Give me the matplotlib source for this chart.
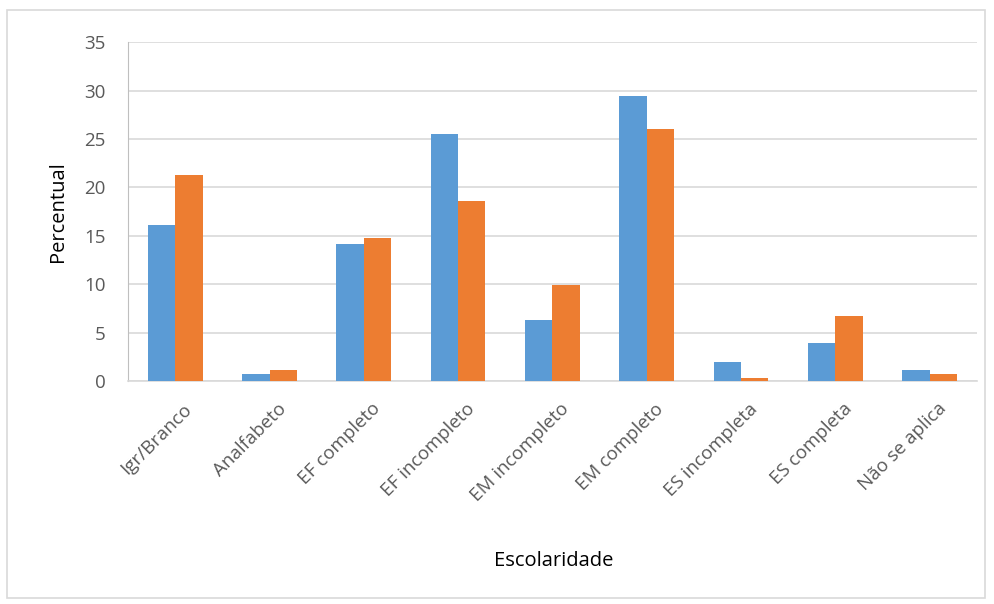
import numpy as np
import matplotlib
matplotlib.use("Agg")
import matplotlib.pyplot as plt
import matplotlib.transforms as mtransforms
from matplotlib.patches import Rectangle

plt.rcParams['font.family'] = ['Open Sans', 'DejaVu Sans']

categorias = ['Igr/Branco', 'Analfabeto', 'EF completo', 'EF incompleto',
              'EM incompleto', 'EM completo', 'ES incompleta', 'ES completa',
              'Não se aplica']
serie_azul = [16.1, 0.7, 14.2, 25.5, 6.3, 29.5, 2.0, 3.9, 1.1]
serie_laranja = [21.3, 1.1, 14.8, 18.6, 9.9, 26.0, 0.3, 6.7, 0.7]

AZUL = '#5b9bd5'
LARANJA = '#ed7d31'
CINZA = '#595959'

fig = plt.figure(figsize=(9.94, 6.04), dpi=100)
ax = fig.add_axes([0.1288, 0.369, 0.854, 0.561])

# moldura do gráfico
fig.patches.append(Rectangle((0.007, 0.01), 0.984, 0.973, transform=fig.transFigure,
                             fill=False, edgecolor='#d9d9d9', linewidth=1.2))

x = np.arange(len(categorias))
w = 0.29
ax.bar(x - w / 2, serie_azul, w, color=AZUL, zorder=3)
ax.bar(x + w / 2, serie_laranja, w, color=LARANJA, zorder=3)

ax.set_xlim(-0.5, len(categorias) - 0.5)
ax.set_ylim(0, 35)
ax.set_yticks(range(0, 36, 5))
ax.yaxis.grid(True, color='#d9d9d9', linewidth=1.2, zorder=0)

for s in ['top', 'right']:
    ax.spines[s].set_visible(False)
ax.spines['left'].set_color('#bfbfbf')
ax.spines['bottom'].set_color('#d9d9d9')
ax.spines['bottom'].set_linewidth(1.2)

ax.tick_params(axis='both', length=0, colors=CINZA, labelsize=13.5)
ax.tick_params(axis='y', pad=16)
ax.set_xticks(x)
ax.set_xticklabels(categorias, rotation=45, ha='right', va='center',
                   rotation_mode='anchor')
ax.tick_params(axis='x', pad=18)
desloc = mtransforms.ScaledTranslation(14 / 100, 0, fig.dpi_scale_trans)
for lbl in ax.get_xticklabels():
    lbl.set_transform(lbl.get_transform() + desloc)

ax.set_ylabel('Percentual', fontsize=14.5, color='black', labelpad=12)
fig.text(0.557, 0.072, 'Escolaridade', fontsize=14.5, ha='center', va='center')

fig.savefig('out.png', dpi=100)
